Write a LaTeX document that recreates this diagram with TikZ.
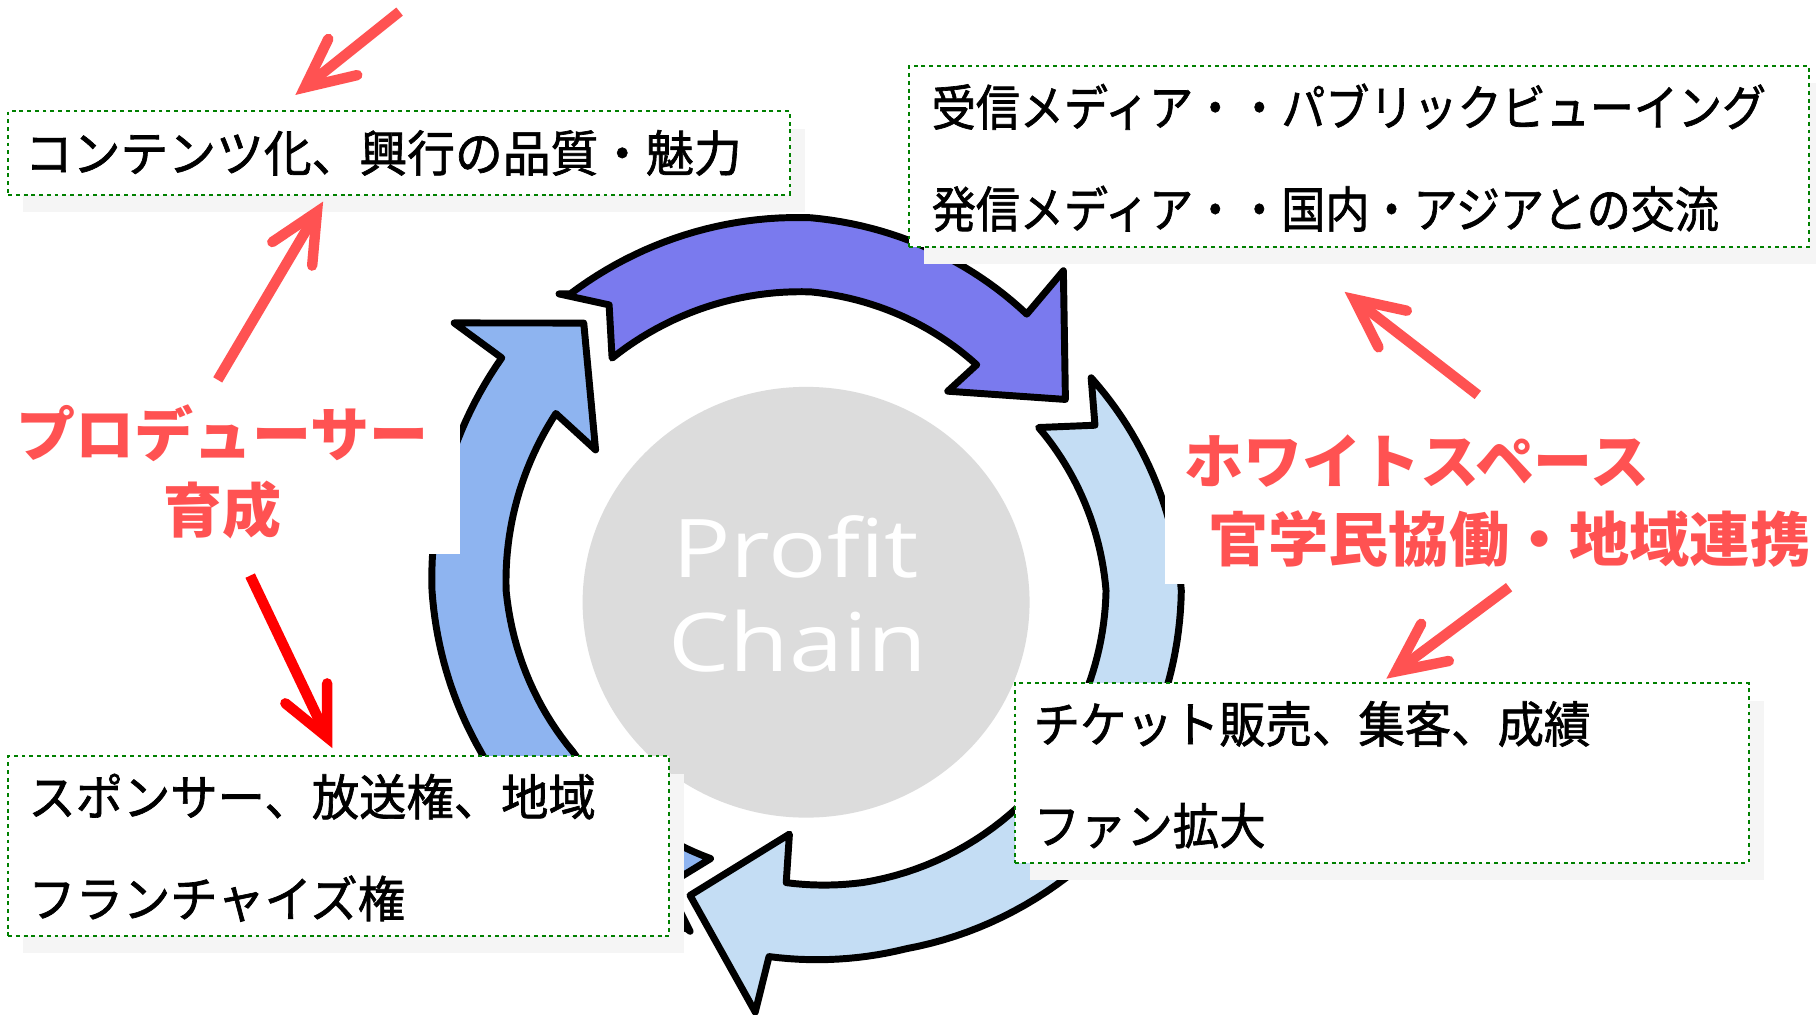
\documentclass[tikz,border=0pt]{standalone}
\usepackage{fontspec}
\usepackage{graphicx}
\usetikzlibrary{arrows.meta,shadows}
\newfontfamily\jp{Noto Sans CJK JP}
\newfontfamily\jpm{Noto Sans CJK JP}[FakeBold=1.4]
\newfontfamily\pcf{Open Sans}
\definecolor{purplec}{RGB}{122,122,238}
\definecolor{leftc}{RGB}{142,180,240}
\definecolor{lightc}{RGB}{196,221,244}
\definecolor{circc}{RGB}{220,220,220}
\definecolor{redc}{RGB}{255,82,82}
\definecolor{purered}{RGB}{255,0,0}
\definecolor{dgreen}{RGB}{0,128,0}
\definecolor{shadowc}{RGB}{245,245,245}
\tikzset{
  ring/.style={draw=black, line width=0.12cm, line join=round},
  tbox/.style={draw=dgreen, line width=1pt, dash pattern=on 1.9pt off 1.9pt, fill=white, inner sep=0pt,
    drop shadow={shadow xshift=0.26cm, shadow yshift=-0.30cm, fill=shadowc, opacity=1}},
  btxt/.style={font=\jpm\fontsize{22.8}{47.2}\selectfont, inner sep=0pt, anchor=west},
  rtxt/.style={font=\jp\bfseries\fontsize{29}{37}\selectfont, text=redc, inner sep=0pt},
  pctxt/.style={font=\pcf\fontsize{39.8}{46}\selectfont, text=white, inner sep=0pt, anchor=base},
  rarrow/.style={draw=redc, line width=0.18cm, -{Straight Barb[length=0.84cm, width=0.8cm, line cap=round, line join=miter]}},
}
\begin{document}
\begin{tikzpicture}[x=0.02cm,y=0.02cm]
\useasboundingbox (0,0) rectangle (1568,-876);
\fill[white] (0,0) rectangle (1568,-876);

% ring of arrows
\begin{scope}[shift={(700,-510)}]
% top (purple)
\filldraw[ring, fill=purplec] (130.3:336)
 -- plot[domain=129:90,samples=25] (\x:{322+(\x-90)*0.2})
 -- plot[domain=90:52,samples=25] (\x:{322-(90-\x)*0.5})
 -- (51.7:352) -- (36.9:275) -- (55.5:209) -- (53.7:242)
 -- plot[domain=53.7:90,samples=25] (\x:{258-(90-\x)*0.44})
 -- plot[domain=90:130.5,samples=25] (\x:{258+(\x-90)*0.15})
 -- (125.2:302) -- cycle;
% left
\filldraw[ring, fill=leftc] (249.5:247) -- (244:283) -- (250.5:312)
 -- plot[domain=250:206,samples=25] (\x:{317-(\x-206)*0.136})
 -- plot[domain=206:180,samples=20] (\x:{327-(\x-180)*0.385})
 -- plot[domain=180:143,samples=25] (\x:{327+(180-\x)*0.19})
 -- (143.1:385) -- (130.3:303) -- (146.8:222) -- (145.2:268)
 -- plot[domain=145.2:180,samples=25] (\x:{263+(180-\x)*0.144})
 -- plot[domain=180:214,samples=20] (\x:{263-(\x-180)*0.44})
 -- plot[domain=214:249.5,samples=20] (\x:{248-(\x-214)*0.03})
 -- cycle;
% bottom
\filldraw[ring, fill=lightc] (329:325) -- (325:288) -- (331:258)
 -- plot[domain=331:280,samples=25] (\x:{256+(\x-280)*0.08})
 -- plot[domain=280:265.2,samples=10] (\x:{253+(\x-265.2)*0.2})
 -- (265:211) -- (248.4:283) -- (262.5:367) -- (263.5:318)
 -- plot[domain=263.5:285,samples=15] (\x:{318+(\x-263.5)*0.093})
 -- plot[domain=285:312,samples=15] (\x:{320+(\x-285)*0.44})
 -- plot[domain=312:329,samples=10] (\x:{332-(\x-312)*0.12})
 -- cycle;
% right
\filldraw[ring, fill=lightc] (37.2:304)
 -- plot[domain=37:0,samples=25] (\x:{320-\x*0.43})
 -- plot[domain=0:-22,samples=15] (\x:{320+\x*0.09})
 -- (-21:350) -- (-33:283) -- (-23:222) -- (-22.5:253)
 -- plot[domain=-22.5:0,samples=15] (\x:{255+\x*0.09})
 -- plot[domain=0:35.6,samples=25] (\x:{255-\x*0.365})
 -- (30.2:284) -- cycle;
\end{scope}

% centre disc
\fill[circc] (696,-520) ellipse [x radius=3.86cm, y radius=3.72cm];
\node[pctxt] (pc1) at (687,-499) {\scalebox{1.2}[1]{Profit}};
\node[pctxt] (pc2) at (689,-580) {\scalebox{1.2}[1]{Chain}};

% white patches behind red labels
\fill[white] (0,-340) rectangle (397,-478);
\fill[white] (1006,-357) rectangle (1568,-504);

% boxes
\node[tbox, minimum width=13.5cm, minimum height=1.44cm] (boxA) at (344.5,-132) {};
\node[tbox, minimum width=11.42cm, minimum height=3.10cm] (boxB) at (292.5,-730.5) {};
\node[tbox, minimum width=15.54cm, minimum height=3.12cm] (boxC) at (1173.5,-135) {};
\node[tbox, minimum width=12.68cm, minimum height=3.10cm] (boxD) at (1193,-667.5) {};

\node[btxt] (ta) at ([xshift=0.30cm]boxA.west) {\scalebox{1.03}[1.06]{コンテンツ化、興行の品質・魅力}};
\node[btxt] (tb) at ([xshift=0.36cm]boxB.west) {\scalebox{1.02}[1.06]{\begin{tabular}{@{}l@{}}スポンサー、放送権、地域\\フランチャイズ権\end{tabular}}};
\node[btxt] (tc) at ([xshift=0.40cm]boxC.west) {\scalebox{0.95}[1.06]{\begin{tabular}{@{}l@{}}受信メディア・・パブリックビューイング\\発信メディア・・国内・アジアとの交流\end{tabular}}};
\node[btxt] (td) at ([xshift=0.34cm]boxD.west) {\scalebox{1}[1.06]{\begin{tabular}{@{}l@{}}チケット販売、集客、成績\\ファン拡大\end{tabular}}};

% red labels
\node[rtxt, align=center] (prod) at (192,-407.5) {プロデューサー\\育成};
\node[rtxt, anchor=west] (wp1) at (1022,-398) {ホワイトスペース};
\node[rtxt, anchor=west] (wp2) at (1043,-465) {\scalebox{1.02}[1]{官学民協働・地域連携}};

% red arrows
\coordinate (r1s) at (345,-10);  \coordinate (r1e) at (255,-82);
\coordinate (r2s) at (188,-328); \coordinate (r2e) at (279,-174);
\coordinate (r3s) at (216,-497); \coordinate (r3e) at (287,-646);
\coordinate (r4s) at (1276,-341); \coordinate (r4e) at (1161,-252);
\coordinate (r5s) at (1303,-507); \coordinate (r5e) at (1197,-586);
\draw[rarrow] (r1s) -- (r1e);
\draw[rarrow] (r2s) -- (r2e);
\draw[rarrow, draw=purered] (r3s) -- (r3e);
\draw[rarrow] (r4s) -- (r4e);
\draw[rarrow] (r5s) -- (r5e);
\end{tikzpicture}
\end{document}
